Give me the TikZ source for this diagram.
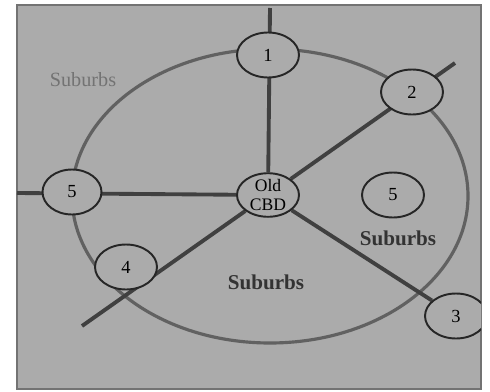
\documentclass[tikz,border=0pt]{standalone}
\usepackage{fontspec}
\setmainfont{Liberation Serif}
\usetikzlibrary{shapes.geometric, backgrounds}
\begin{document}
\begin{tikzpicture}[x=0.02cm, y=-0.02cm, every node/.style={font=\fontsize{10.5}{10.5}\selectfont},
  town/.style={ellipse, draw=black!85, line width=1.1pt, fill=black!33, minimum width=1.24cm, minimum height=0.9cm, inner sep=0pt},
  spoke/.style={line width=2.2pt, black!75},
  ring/.style={line width=1.8pt, black!62},
  area/.style={font=\fontsize{12}{12}\selectfont\bfseries, black!80}]
  \useasboundingbox (0,0) rectangle (490,392);
  \begin{scope}
    \clip (17,5) rectangle (481,389);
    \node[town, minimum height=0.82cm, align=center, font=\fontsize{10}{10.5}\selectfont] (cbd) at (268,195) {Old\\CBD};
    \node[town] (t1) at (268,55) {1};
    \node[town] (t2) at (412,92) {2};
    \node[town] (t3) at (456,316) {3};
    \node[town] (t4) at (126,267) {4};
    \node[town, minimum width=1.18cm] (t5w) at (72,192) {5};
    \node[town] (t5e) at (393,195) {5};
    \coordinate (n) at (270,8);
    \coordinate (w) at (17,193);
    \coordinate (ne) at (455,63);
    \coordinate (sw) at (82,326);
    \begin{pgfonlayer}{background}
      % scanned page
      \fill[white] (0,0) rectangle (490,392);
      \draw[fill=black!33, draw=black!55, line width=0.8pt] (17,5) rectangle (481,389);
      % outer limit of the city
      \draw[ring] (270,196) ellipse [x radius=198, y radius=147];
      \draw[spoke] (cbd) -- (n);
      \draw[spoke] (cbd) -- (w);
      \draw[spoke] (cbd) -- (ne);
      \draw[spoke] (cbd) -- (sw);
      \draw[spoke] (cbd) -- (t3);
    \end{pgfonlayer}
  \end{scope}
  \node[black!55, font=\fontsize{11.5}{12}\selectfont] (sub1) at (83,80) {Suburbs};
  \node[area] (sub2) at (398,238) {Suburbs};
  \node[area] (sub3) at (266,282) {Suburbs};
\end{tikzpicture}
\end{document}
